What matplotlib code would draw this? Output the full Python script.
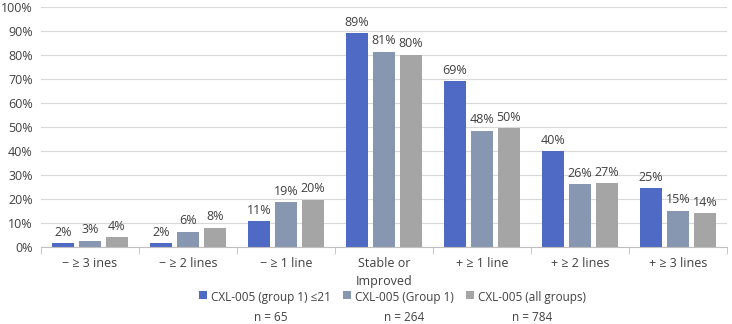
import numpy as np
import matplotlib
matplotlib.use("Agg")
import matplotlib.pyplot as plt
import matplotlib.patches as mpatches
from matplotlib.container import BarContainer
from matplotlib.legend_handler import HandlerPatch, update_from_first_child

plt.rcParams['font.family'] = ['Open Sans', 'DejaVu Sans']

categories = ["\u2212 \u2265 3 ines", "\u2212 \u2265 2 lines", "\u2212 \u2265 1 line",
              "Stable or\nImproved", "+ \u2265 1 line", "+ \u2265 2 lines", "+ \u2265 3 lines"]
series_names = ["CXL-005 (group 1) \u226421\nn = 65",
                "CXL-005 (Group 1)\nn = 264",
                "CXL-005 (all groups)\nn = 784"]
young = [1.5, 1.5, 10.7, 89.2, 69.2, 40.0, 24.6]
group1 = [2.7, 6.4, 18.6, 81.4, 48.5, 26.1, 15.2]
all_groups = [4.1, 8.0, 19.7, 80.2, 49.6, 26.5, 14.0]
labels = [[2, 2, 11, 89, 69, 40, 25],
          [3, 6, 19, 81, 48, 26, 15],
          [4, 8, 20, 80, 50, 27, 14]]
colors = ["#4f6ac4", "#8796b1", "#a5a5a5"]

LEG_FS = 8.5
LEG_LS = 1.7


# legend square sits next to the first line of a two-line label
def top_square(legend, orig_handle, xdescent, ydescent, width, height, fontsize):
    s = 0.7 * fontsize
    return mpatches.Rectangle((-xdescent, fontsize * (LEG_LS - 0.6)), s, s)


fig = plt.figure(figsize=(7.32, 3.24), dpi=100)
ax = fig.add_axes([41/732, 1 - 247/324, 686/732, 240/324])

x = np.arange(len(categories))
width = 0.224
step = 0.275
for i, (vals, col, name) in enumerate(zip([young, group1, all_groups], colors, series_names)):
    pos = x + (i - 1) * step
    ax.bar(pos, vals, width, color=col, label=name)
    for p, v, lab in zip(pos, vals, labels[i]):
        ax.text(p, v + 1.8, f"{lab}%", ha='center', va='bottom', fontsize=9, color='#404040')

ax.set_xlim(-0.5, len(categories) - 0.5)
ax.set_ylim(0, 100)
ax.set_yticks(np.arange(0, 101, 10))
ax.set_yticklabels([f"{v}%" for v in range(0, 101, 10)], fontsize=9, color='#404040')
ax.set_xticks(x)
ax.set_xticklabels(categories, fontsize=9, color='#404040', linespacing=1.55)
ax.tick_params(axis='x', which='major', length=0, pad=7)
ax.tick_params(axis='y', length=0, pad=6)
ax.set_xticks(np.arange(-0.5, len(categories), 1), minor=True)
ax.tick_params(axis='x', which='minor', length=5, color='#bfbfbf')
ax.grid(axis='y', color='#d9d9d9', linewidth=0.8)
ax.set_axisbelow(True)
for s in ['top', 'right', 'left']:
    ax.spines[s].set_visible(False)
ax.spines['bottom'].set_color('#bfbfbf')

leg = fig.legend(loc='lower center', bbox_to_anchor=(0.536, -0.025), ncol=3, frameon=False,
                 fontsize=LEG_FS, handlelength=0.7, handleheight=0.7, handletextpad=0.35,
                 columnspacing=1.0, borderpad=0.2,
                 handler_map={BarContainer: HandlerPatch(patch_func=top_square,
                                                         update_func=update_from_first_child)})
for t in leg.get_texts():
    t.set_multialignment('center')
    t.set_linespacing(LEG_LS)
    t.set_color('#404040')

fig.savefig("out.png", dpi=100)
